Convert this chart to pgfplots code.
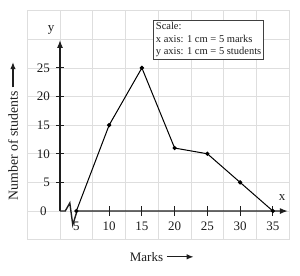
\documentclass[border=0pt]{standalone}
\usepackage{fontspec}
\setmainfont{Liberation Serif}
\usepackage{pgfplots}
\pgfplotsset{compat=1.18}
\usetikzlibrary{arrows.meta}
\definecolor{gridc}{RGB}{222,222,222}
\definecolor{axc}{RGB}{30,30,30}
\begin{document}
\begin{tikzpicture}
\begin{axis}[
  x=6.55pt, y=5.725pt,
  xmin=-2.5, xmax=37.5, ymin=-5, ymax=35,
  xtick={-2.5,2.5,...,37.5}, ytick={-5,0,...,35},
  xticklabels={}, yticklabels={},
  major tick length=0pt,
  grid=major,
  major grid style={gridc, line width=0.6pt},
  axis line style={gridc, line width=0.6pt},
  clip=false,
  font=\fontsize{13}{15}\selectfont,
]
% bounding box matching the reference frame
\path (axis cs:-6.66,-11.18) rectangle (axis cs:39.14,36.86);
% x axis with break
\draw[draw=axc, line width=1.4pt, line join=miter, -{Latex[length=8pt,width=6pt]}]
  (axis cs:2.5,0) -- (axis cs:3.3,0) -- (axis cs:4.0,1.4) -- (axis cs:4.45,-2.4) -- (axis cs:5.1,0) -- (axis cs:37.3,0);
% y axis
\draw[draw=axc, line width=1.6pt, -{Latex[length=8pt,width=6pt]}] (axis cs:2.5,0) -- (axis cs:2.5,29.9);
% x ticks and labels
\pgfplotsinvokeforeach{10,15,...,35}{
  \draw[draw=axc, line width=1.1pt] (axis cs:#1,-0.85) -- (axis cs:#1,0.85);
}
\pgfplotsinvokeforeach{5,10,...,35}{
  \node[text=axc] at (axis cs:#1,-2.6) {#1};
}
% y ticks and labels
\pgfplotsinvokeforeach{5,10,...,25}{
  \draw[draw=axc, line width=1.1pt] (axis cs:1.9,#1) -- (axis cs:3.1,#1);
  \node[text=axc, anchor=east, inner sep=0pt] at (axis cs:1.0,#1) {#1};
}
\node[text=axc, anchor=east, inner sep=0pt] at (axis cs:0.5,0) {0};
% axis letters
\node[text=axc] at (axis cs:1.13,31.6) {y};
\node[text=axc] at (axis cs:36.4,2.4) {x};
% axis titles
\node[text=axc, rotate=90, font=\fontsize{13.8}{15}\selectfont] at (axis cs:-4.68,11.35) {Number of students};
\draw[draw=axc, line width=1.1pt, -{Latex[length=7pt,width=5.5pt]}] (axis cs:-4.68,21.6) -- (axis cs:-4.68,26.0);
\node[text=axc, font=\fontsize{13}{15}\selectfont] at (axis cs:15.7,-8.0) {Marks};
\draw[draw=axc, line width=1.1pt, -{Latex[length=7pt,width=5.5pt]}] (axis cs:18.8,-8.0) -- (axis cs:22.9,-8.0);
% data
\addplot[black, line width=1pt, mark=*, mark size=1.6pt] coordinates {
  (5,0) (10,15) (15,25) (20,11) (25,10) (30,5) (35,0)
};
% scale box
\node[draw=axc!85, fill=white, line width=0.8pt, anchor=north west, align=left,
      inner sep=2.5pt, font=\fontsize{10.5}{12.5}\selectfont, text=axc]
  at (axis cs:16.7,33.4) {Scale:\\x axis: 1 cm = 5 marks\\y axis: 1 cm = 5 students};
\end{axis}
\end{tikzpicture}
\end{document}
